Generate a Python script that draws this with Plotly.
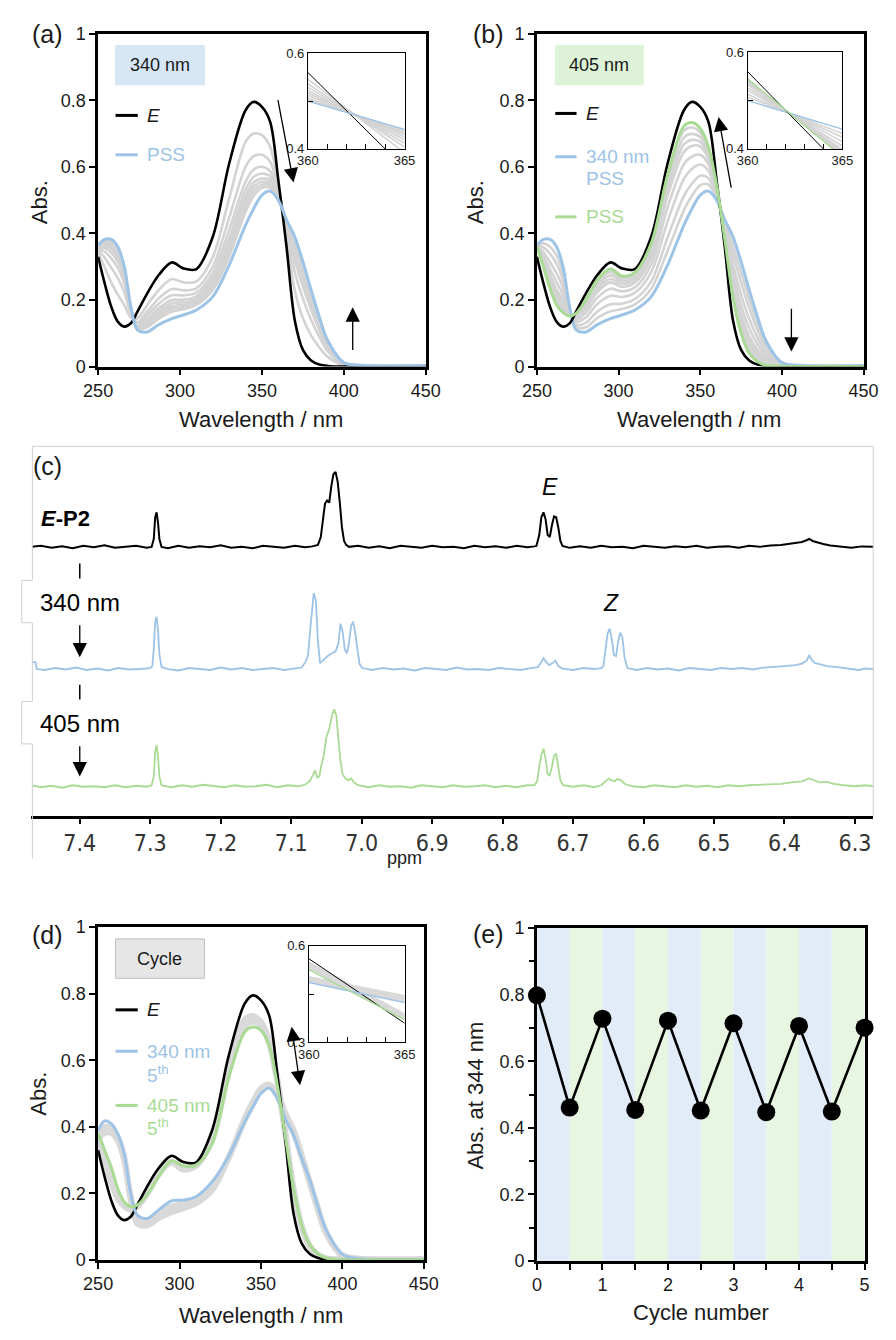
import plotly.graph_objects as go

FIG_W, FIG_H = 896, 1340


def fx(p):
    return p / FIG_W


def fy(p):
    return 1 - p / FIG_H


FONT = "Liberation Sans, Arial, Helvetica, sans-serif"
NARROW = "Liberation Sans Narrow, DejaVu Sans Condensed, Arial Narrow, sans-serif"
INK = "#1a1a1a"
BLACK = "#000000"
BLUE = "#9DC3E6"
GREEN = "#A9DB95"
GRAY = "#D3D3D3"
BAND = "#D9D9D9"

# ---------------- UV-vis absorption spectra ----------------
wavelength = [250, 254, 258, 262, 266, 270, 274, 280, 287, 295, 302, 310, 320, 330,
              340, 345, 350, 355, 360, 365, 370, 375, 380, 385, 390, 400, 410, 450]

abs_E = [0.330, 0.250, 0.180, 0.135, 0.120, 0.130, 0.165, 0.220, 0.275, 0.313, 0.295, 0.293, 0.390, 0.610,
         0.770, 0.795, 0.780, 0.735, 0.560, 0.360, 0.140, 0.050, 0.018, 0.006, 0.002, 0.000, 0.000, 0.000]
abs_pss340 = [0.365, 0.382, 0.382, 0.360, 0.300, 0.180, 0.110, 0.104, 0.126, 0.144, 0.155, 0.170, 0.210, 0.305,
              0.425, 0.475, 0.515, 0.527, 0.500, 0.441, 0.390, 0.315, 0.230, 0.150, 0.080, 0.012, 0.004, 0.003]
abs_pss405 = [0.362, 0.300, 0.235, 0.185, 0.162, 0.152, 0.160, 0.200, 0.260, 0.293, 0.272, 0.283, 0.370, 0.575,
              0.722, 0.733, 0.715, 0.660, 0.545, 0.384, 0.210, 0.100, 0.040, 0.015, 0.004, 0.001, 0.000, 0.000]

# spectra recorded during 340 nm irradiation (E -> PSS)
irr340_1 = [0.343, 0.298, 0.253, 0.216, 0.185, 0.148, 0.145, 0.185, 0.230, 0.263, 0.253, 0.256, 0.329, 0.505,
            0.675, 0.700, 0.695, 0.660, 0.546, 0.392, 0.230, 0.145, 0.094, 0.058, 0.030, 0.004, 0.002, 0.001]
irr340_2 = [0.350, 0.327, 0.297, 0.266, 0.224, 0.159, 0.133, 0.165, 0.205, 0.233, 0.229, 0.235, 0.300, 0.447,
            0.600, 0.632, 0.636, 0.615, 0.536, 0.404, 0.285, 0.204, 0.141, 0.090, 0.047, 0.007, 0.002, 0.002]
irr340_3 = [0.355, 0.345, 0.325, 0.297, 0.250, 0.166, 0.125, 0.153, 0.189, 0.214, 0.214, 0.222, 0.281, 0.411,
            0.555, 0.592, 0.600, 0.587, 0.529, 0.412, 0.320, 0.241, 0.171, 0.110, 0.058, 0.009, 0.003, 0.002]
irr340_4 = [0.358, 0.356, 0.342, 0.315, 0.264, 0.170, 0.121, 0.142, 0.175, 0.200, 0.201, 0.211, 0.266, 0.385,
            0.530, 0.570, 0.580, 0.571, 0.522, 0.419, 0.340, 0.262, 0.188, 0.121, 0.064, 0.010, 0.003, 0.002]
irr340_5 = [0.360, 0.363, 0.353, 0.327, 0.274, 0.173, 0.118, 0.135, 0.166, 0.190, 0.193, 0.203, 0.256, 0.369,
            0.510, 0.553, 0.565, 0.560, 0.517, 0.425, 0.354, 0.277, 0.199, 0.129, 0.069, 0.010, 0.003, 0.003]
irr340_6 = [0.361, 0.367, 0.360, 0.335, 0.280, 0.175, 0.116, 0.130, 0.159, 0.181, 0.186, 0.197, 0.247, 0.354,
            0.495, 0.540, 0.555, 0.552, 0.512, 0.430, 0.363, 0.286, 0.207, 0.134, 0.071, 0.011, 0.004, 0.003]
irr340_7 = [0.362, 0.372, 0.367, 0.343, 0.287, 0.176, 0.114, 0.124, 0.151, 0.173, 0.179, 0.191, 0.239, 0.342,
            0.480, 0.527, 0.546, 0.545, 0.507, 0.434, 0.371, 0.295, 0.214, 0.139, 0.074, 0.011, 0.004, 0.003]
irr340_8 = [0.363, 0.376, 0.373, 0.350, 0.292, 0.178, 0.112, 0.118, 0.144, 0.165, 0.172, 0.185, 0.230, 0.330,
            0.465, 0.513, 0.537, 0.537, 0.503, 0.438, 0.379, 0.303, 0.220, 0.144, 0.077, 0.011, 0.004, 0.003]

# spectra recorded during 405 nm irradiation (340 nm PSS -> PSS)
irr405_1 = [0.363, 0.305, 0.244, 0.196, 0.170, 0.154, 0.157, 0.194, 0.252, 0.284, 0.265, 0.276, 0.360, 0.573,
            0.709, 0.718, 0.703, 0.652, 0.542, 0.387, 0.221, 0.113, 0.051, 0.023, 0.009, 0.002, 0.000, 0.000]
irr405_2 = [0.363, 0.311, 0.254, 0.208, 0.180, 0.156, 0.154, 0.188, 0.243, 0.274, 0.257, 0.268, 0.349, 0.553,
            0.688, 0.699, 0.689, 0.643, 0.539, 0.391, 0.233, 0.128, 0.065, 0.032, 0.014, 0.002, 0.001, 0.000]
irr405_3 = [0.363, 0.316, 0.264, 0.220, 0.190, 0.158, 0.150, 0.181, 0.233, 0.263, 0.249, 0.260, 0.338, 0.533,
            0.667, 0.681, 0.675, 0.633, 0.536, 0.395, 0.246, 0.143, 0.078, 0.042, 0.019, 0.003, 0.001, 0.001]
irr405_4 = [0.363, 0.322, 0.275, 0.232, 0.199, 0.160, 0.147, 0.174, 0.224, 0.253, 0.240, 0.252, 0.327, 0.513,
            0.645, 0.663, 0.661, 0.624, 0.533, 0.399, 0.259, 0.158, 0.091, 0.051, 0.025, 0.004, 0.001, 0.001]
irr405_5 = [0.363, 0.332, 0.293, 0.254, 0.216, 0.163, 0.140, 0.162, 0.207, 0.234, 0.226, 0.238, 0.307, 0.478,
            0.608, 0.631, 0.636, 0.608, 0.527, 0.406, 0.281, 0.185, 0.115, 0.068, 0.034, 0.005, 0.002, 0.001]
irr405_6 = [0.364, 0.344, 0.314, 0.280, 0.237, 0.167, 0.133, 0.148, 0.188, 0.213, 0.209, 0.222, 0.284, 0.436,
            0.564, 0.594, 0.607, 0.588, 0.521, 0.415, 0.307, 0.216, 0.143, 0.088, 0.045, 0.006, 0.002, 0.002]
irr405_7 = [0.364, 0.358, 0.339, 0.309, 0.260, 0.172, 0.125, 0.132, 0.165, 0.187, 0.189, 0.203, 0.256, 0.388,
            0.513, 0.550, 0.573, 0.566, 0.513, 0.424, 0.338, 0.253, 0.175, 0.111, 0.058, 0.009, 0.003, 0.002]
irr405_8 = [0.365, 0.370, 0.360, 0.334, 0.279, 0.176, 0.118, 0.118, 0.146, 0.166, 0.173, 0.187, 0.234, 0.348,
            0.470, 0.514, 0.545, 0.547, 0.507, 0.432, 0.363, 0.283, 0.202, 0.130, 0.069, 0.010, 0.003, 0.003]

# switching cycles: 3rd and 5th photostationary states
cyc3_340 = [0.378, 0.400, 0.396, 0.370, 0.310, 0.190, 0.122, 0.114, 0.138, 0.161, 0.167, 0.180, 0.222, 0.307,
            0.420, 0.468, 0.508, 0.522, 0.493, 0.432, 0.382, 0.310, 0.235, 0.155, 0.085, 0.015, 0.004, 0.002]
cyc3_405 = [0.371, 0.315, 0.258, 0.200, 0.168, 0.156, 0.162, 0.198, 0.255, 0.295, 0.278, 0.284, 0.360, 0.560,
            0.704, 0.716, 0.703, 0.652, 0.536, 0.377, 0.213, 0.103, 0.043, 0.017, 0.005, 0.001, 0.000, 0.000]
cyc5_340 = [0.390, 0.418, 0.410, 0.380, 0.320, 0.200, 0.135, 0.125, 0.150, 0.178, 0.180, 0.190, 0.235, 0.310,
            0.415, 0.460, 0.500, 0.517, 0.486, 0.424, 0.375, 0.305, 0.240, 0.160, 0.090, 0.017, 0.004, 0.002]
cyc5_405 = [0.380, 0.330, 0.280, 0.215, 0.175, 0.160, 0.165, 0.195, 0.250, 0.298, 0.283, 0.285, 0.350, 0.545,
            0.685, 0.700, 0.690, 0.645, 0.526, 0.370, 0.215, 0.105, 0.045, 0.018, 0.006, 0.001, 0.000, 0.000]

# ---------------- absorbance at 344 nm vs cycle ----------------
cycle_number = [0, 0.5, 1, 1.5, 2, 2.5, 3, 3.5, 4, 4.5, 5]
abs_344 = [0.798, 0.461, 0.728, 0.454, 0.722, 0.452, 0.714, 0.447, 0.706, 0.449, 0.701]

# ---------------- 1H NMR traces (chemical shift / ppm, intensity) ----------------
nmr_E_ppm = [7.468, 7.455, 7.44, 7.425, 7.41, 7.395, 7.38, 7.365, 7.35, 7.335, 7.32, 7.305,
             7.298, 7.295, 7.293, 7.291, 7.289, 7.287, 7.284,
             7.275, 7.26, 7.245, 7.23, 7.215, 7.2, 7.185, 7.17, 7.155, 7.14, 7.125, 7.11, 7.095, 7.08, 7.07,
             7.062, 7.058, 7.055, 7.052, 7.049, 7.046, 7.043, 7.040, 7.037, 7.034, 7.031, 7.028, 7.025, 7.022, 7.018,
             7.005, 6.99, 6.975, 6.96, 6.945, 6.93, 6.915, 6.9, 6.885, 6.87, 6.855, 6.84, 6.825, 6.81, 6.795,
             6.78, 6.765, 6.755,
             6.752, 6.748, 6.745, 6.742, 6.739, 6.736, 6.733, 6.730, 6.727, 6.724, 6.721, 6.718, 6.715,
             6.705, 6.69, 6.675, 6.66, 6.645, 6.63, 6.615, 6.6, 6.585, 6.57, 6.555, 6.54, 6.525, 6.51, 6.495,
             6.48, 6.465, 6.45, 6.435, 6.42, 6.405, 6.39, 6.375, 6.368, 6.365, 6.36, 6.352, 6.345, 6.335,
             6.32, 6.305, 6.29, 6.274]
nmr_E_int = [0, 1, -1, 0.5, -1.5, 1, -0.5, 1.5, -1, 0, 1, -1,
             0, 8, 30, 35, 25, 8, 0,
             -1.5, 1, -1, 0.5, -0.5, 1.5, -1, 0, -1.5, 1, 0, -1, 1, -0.5, 0.5,
             2, 10, 30, 44, 47, 45, 62, 74, 76, 66, 45, 20, 6, 2, 0,
             1, -1, 0.5, -1.5, 1, 0, -1, 1, -0.5, 0, -1.5, 1, -0.5, 0.5, -1,
             1, -0.5, 0.5,
             1, 12, 30, 35, 28, 12, 10, 22, 31, 30, 20, 6, 1,
             -1, 0.5, -1, 1, -0.5, 0, -1.5, 1, 0, -1, 0.5, -0.5, 1, -1, 0,
             0.5, -1, 1, 0, 1.5, 2, 3.5, 5, 7, 8, 6, 4, 3, 1.5,
             0, -1, 0.5, 0]

nmr_340_ppm = [7.468, 7.463, 7.461, 7.45, 7.435, 7.42, 7.405, 7.39, 7.375, 7.36, 7.345, 7.33, 7.315, 7.3,
               7.297, 7.295, 7.293, 7.291, 7.289, 7.287, 7.284,
               7.275, 7.26, 7.245, 7.23, 7.215, 7.2, 7.185, 7.17, 7.155, 7.14, 7.125, 7.11, 7.095, 7.085,
               7.079, 7.076, 7.073, 7.070, 7.068, 7.065, 7.062, 7.059, 7.056, 7.052, 7.047, 7.042, 7.037,
               7.033, 7.030, 7.027, 7.024, 7.021, 7.018, 7.015, 7.012, 7.009, 7.006, 7.003, 6.999,
               6.985, 6.97, 6.955, 6.94, 6.925, 6.91, 6.895, 6.88, 6.865, 6.85, 6.835, 6.82, 6.805, 6.79,
               6.775, 6.76, 6.75, 6.745, 6.742, 6.738, 6.734, 6.729, 6.725, 6.721, 6.715,
               6.7, 6.685, 6.67, 6.66, 6.657, 6.654, 6.651, 6.648, 6.645, 6.642, 6.639, 6.636, 6.633, 6.630,
               6.627, 6.623,
               6.61, 6.595, 6.58, 6.565, 6.55, 6.535, 6.52, 6.505, 6.49, 6.475, 6.46, 6.445, 6.43, 6.415,
               6.4, 6.385, 6.375, 6.368, 6.365, 6.362, 6.357, 6.35, 6.34, 6.325, 6.31, 6.295, 6.285, 6.274]
nmr_340_int = [7, 7, 0, -1, 1, -0.5, 1.5, -1, 0.5, -1.5, 1, -0.5, 0, 1,
               3, 20, 48, 53, 40, 15, 2,
               0, -1.5, 1, 0, -1, 1.5, -0.5, 1, -1, 0, 1, -1, 0.5, 1.5,
               8, 14, 40, 66, 77, 70, 28, 6, 8, 11, 14, 16, 18,
               26, 46, 38, 20, 16, 26, 44, 48, 36, 18, 5, 1,
               -1, 1, -0.5, 0.5, -1.5, 1, 0, -1, 1.5, -0.5, 0, -1, 1, 0,
               -1, 1, 2, 7, 11, 7, 4, 6, 8.5, 3, 0.5,
               -1, 1, 0, 1, 3, 20, 36, 41, 30, 14, 13, 28, 37, 32,
               12, 1,
               -1, 1, -0.5, 0.5, -1.5, 1, 0, -1, 1, 0, 1, -0.5, 1.5, 2,
               3, 4, 5.5, 9, 14, 10, 6, 5, 3, 2, 0.5, -1, 0.5, 0]

nmr_405_ppm = [7.468, 7.455, 7.44, 7.425, 7.41, 7.395, 7.38, 7.365, 7.35, 7.335, 7.32, 7.305,
               7.298, 7.295, 7.293, 7.291, 7.289, 7.287, 7.284,
               7.27, 7.255, 7.24, 7.225, 7.21, 7.195, 7.18, 7.165, 7.15, 7.135, 7.12, 7.105, 7.09, 7.08,
               7.073, 7.069, 7.066, 7.063, 7.060, 7.057, 7.054, 7.050, 7.046, 7.042, 7.039, 7.036, 7.033,
               7.030, 7.027, 7.023, 7.019, 7.015, 7.011, 7.005,
               6.99, 6.975, 6.96, 6.945, 6.93, 6.915, 6.9, 6.885, 6.87, 6.855, 6.84, 6.825, 6.81, 6.795,
               6.78, 6.765, 6.755,
               6.751, 6.748, 6.745, 6.742, 6.739, 6.736, 6.733, 6.730, 6.727, 6.724, 6.721, 6.718, 6.714,
               6.7, 6.685, 6.67, 6.66, 6.655, 6.65, 6.645, 6.641, 6.637, 6.632, 6.626, 6.615,
               6.6, 6.585, 6.57, 6.555, 6.54, 6.525, 6.51, 6.495, 6.48, 6.465, 6.45, 6.435, 6.42, 6.405,
               6.39, 6.375, 6.365, 6.358, 6.35, 6.34, 6.33, 6.315, 6.3, 6.285, 6.274]
nmr_405_int = [1, -1, 0.5, -1.5, 1, -0.5, 0, -1, 1, -1, 0.5, -0.5,
               1, 10, 35, 42, 30, 10, 1,
               -1, 1, -0.5, 1.5, 0, -1, 1, -0.5, 0, 1.5, -1, 1, 0, 1.5,
               6, 12, 16, 9, 10, 22, 30, 50, 58, 72, 78, 72, 45,
               25, 12, 8, 6, 8, 4, 1,
               -1, 1, -0.5, 0, -1.5, 1, 0, -1, 1, -0.5, 0, 1, -1, 0.5,
               -1, 1, 1,
               5, 20, 32, 38, 28, 12, 11, 20, 31, 33, 20, 6, 1,
               -0.5, 1, -1, 1, 4, 7.5, 6, 5, 7.5, 6, 2, 0,
               -1, 1, 0, -1, 1, -0.5, 0.5, -1, 1, 0, 1, 1.5, 2, 2.5,
               4, 5, 8, 6, 4, 4.5, 2.5, 1, 0, 1, 0]

# display offsets for stacking the NMR traces
offset_E, offset_340, offset_405 = 273, 149, 30

fig = go.Figure()


def add_line(x, y, xa, ya, color, width, shape="spline"):
    fig.add_trace(go.Scatter(
        x=x, y=y, xaxis=xa, yaxis=ya, mode="lines",
        line=dict(color=color, width=width, shape=shape, smoothing=0.9 if shape == "spline" else None),
        showlegend=False, hoverinfo="skip"))


# panel (a) + inset
for xa, ya, shape, wg, wk, wc in [("x", "y", "spline", 2.6, 2.6, 3.0), ("x6", "y6", "linear", 1.6, 1.0, 1.4)]:
    for s in [irr340_1, irr340_2, irr340_3, irr340_4, irr340_5, irr340_6, irr340_7, irr340_8]:
        add_line(wavelength, s, xa, ya, GRAY, wg, shape)
    add_line(wavelength, abs_E, xa, ya, BLACK, wk, shape)
    add_line(wavelength, abs_pss340, xa, ya, BLUE, wc, shape)

# panel (b) + inset
for xa, ya, shape, wg, wk, wc in [("x2", "y2", "spline", 2.6, 2.6, 3.0), ("x7", "y7", "linear", 1.6, 1.0, 1.4)]:
    for s in [irr405_1, irr405_2, irr405_3, irr405_4, irr405_5, irr405_6, irr405_7, irr405_8]:
        add_line(wavelength, s, xa, ya, GRAY, wg, shape)
    add_line(wavelength, abs_pss340, xa, ya, BLUE, wc, shape)
    add_line(wavelength, abs_E, xa, ya, BLACK, wk, shape)
    add_line(wavelength, abs_pss405, xa, ya, GREEN, wc, shape)

# panel (d) + inset
for xa, ya, shape, wb, wk, wc in [("x4", "y4", "spline", 6, 2.6, 3.0), ("x8", "y8", "linear", 4, 1.0, 1.4)]:
    for s in [abs_pss340, cyc3_340, abs_pss405, cyc3_405]:
        add_line(wavelength, s, xa, ya, BAND, wb, shape)
    add_line(wavelength, abs_E, xa, ya, BLACK, wk, shape)
    add_line(wavelength, cyc5_340, xa, ya, BLUE, wc, shape)
    add_line(wavelength, cyc5_405, xa, ya, GREEN, wc, shape)

# panel (c) NMR
for ppm, inten, off, color, w in [(nmr_E_ppm, nmr_E_int, offset_E, BLACK, 2.0),
                                  (nmr_340_ppm, nmr_340_int, offset_340, BLUE, 1.8),
                                  (nmr_405_ppm, nmr_405_int, offset_405, GREEN, 1.8)]:
    fig.add_trace(go.Scatter(x=ppm, y=[v + off for v in inten], xaxis="x3", yaxis="y3", mode="lines",
                             line=dict(color=color, width=w), showlegend=False, hoverinfo="skip"))

# panel (e)
fig.add_trace(go.Scatter(x=cycle_number, y=abs_344, xaxis="x5", yaxis="y5", mode="lines+markers",
                         line=dict(color=BLACK, width=2.6), marker=dict(color=BLACK, size=18),
                         cliponaxis=False, showlegend=False, hoverinfo="skip"))

# ---------------- axes ----------------
tick_font = dict(family=FONT, size=18, color=INK)


def uv_x(x0, x1, anchor):
    return dict(domain=[fx(x0), fx(x1)], anchor=anchor, range=[250, 450], tickvals=[250, 300, 350, 400, 450],
                ticks="outside", ticklen=6, tickwidth=1.5, tickcolor=BLACK, showline=True, linecolor=BLACK,
                linewidth=2.6, mirror=True, showgrid=False, zeroline=False, tickfont=tick_font)


def uv_y(y0, y1, anchor):
    return dict(domain=[fy(y1), fy(y0)], anchor=anchor, range=[0, 1], tickvals=[0, 0.2, 0.4, 0.6, 0.8, 1.0],
                ticktext=["0", "0.2", "0.4", "0.6", "0.8", "1"], ticks="outside", ticklen=6, tickwidth=1.5,
                tickcolor=BLACK, showline=True, linecolor=BLACK, linewidth=2.6, mirror=True, showgrid=False,
                zeroline=False, tickfont=tick_font)


def inset_x(x0, x1, anchor):
    return dict(domain=[fx(x0), fx(x1)], anchor=anchor, range=[360, 365],
                tickvals=[360, 361, 362, 363, 364, 365], ticktext=["360", " ", " ", " ", " ", "365"],
                ticks="inside", ticklen=5, tickwidth=1, tickcolor=BLACK, showline=True, linecolor=BLACK,
                linewidth=1, mirror=True, showgrid=False, zeroline=False,
                tickfont=dict(family=FONT, size=13, color=INK))


def inset_y(y0, y1, anchor, lo, hi):
    mid = (lo + hi) / 2
    return dict(domain=[fy(y1), fy(y0)], anchor=anchor, range=[lo, hi], tickvals=[lo, mid, hi],
                ticktext=[f"{lo:g}", " ", f"{hi:g}"], ticks="inside", ticklen=5, tickwidth=1, tickcolor=BLACK,
                showline=True, linecolor=BLACK, linewidth=1, mirror=True, showgrid=False, zeroline=False,
                tickfont=dict(family=FONT, size=13, color=INK))


ppm_ticks = [7.4, 7.3, 7.2, 7.1, 7.0, 6.9, 6.8, 6.7, 6.6, 6.5, 6.4, 6.3]

fig.update_layout(
    width=FIG_W, height=FIG_H, margin=dict(l=0, r=0, t=0, b=0), autosize=False,
    paper_bgcolor="white", plot_bgcolor="white", showlegend=False,
    xaxis=uv_x(86, 425, "y"), yaxis=uv_y(24, 362, "x"),
    xaxis2=uv_x(540, 878, "y2"), yaxis2=uv_y(24, 362, "x2"),
    xaxis4=uv_x(86, 423, "y4"), yaxis4=uv_y(931, 1269, "x4"),
    xaxis3=dict(domain=[fx(17), fx(888)], anchor="y3", range=[7.4686, 6.274], tickvals=ppm_ticks,
                ticktext=[f"{v:.1f}" for v in ppm_ticks], ticks="outside", ticklen=5, tickwidth=1.5,
                tickcolor=BLACK, showline=True, linecolor=BLACK, linewidth=3, showgrid=False, zeroline=False,
                tickfont=dict(family=NARROW, size=23, color="#333333")),
    yaxis3=dict(domain=[fy(818), fy(443)], anchor="x3", range=[0, 375], visible=False),
    xaxis5=dict(domain=[fx(540), fx(879)], anchor="y5", range=[0, 5], tickvals=[0, 1, 2, 3, 4, 5],
                ticks="outside", ticklen=6, tickwidth=1.5, tickcolor=BLACK,
                minor=dict(dtick=0.5, ticks="outside", ticklen=6, tickwidth=1.5, tickcolor=BLACK),
                showline=True, linecolor=BLACK, linewidth=2.6, mirror=True, showgrid=False, zeroline=False,
                tickfont=tick_font),
    yaxis5=dict(domain=[fy(1270), fy(932)], anchor="x5", range=[0, 1], tickvals=[0, 0.2, 0.4, 0.6, 0.8, 1.0],
                ticktext=["0", "0.2", "0.4", "0.6", "0.8", "1"], ticks="outside", ticklen=6, tickwidth=1.5,
                tickcolor=BLACK, minor=dict(dtick=0.1, ticks="outside", ticklen=5, tickwidth=1.5, tickcolor=BLACK),
                showline=True, linecolor=BLACK, linewidth=2.6, mirror=True, showgrid=False, zeroline=False,
                tickfont=tick_font),
    xaxis6=inset_x(303, 403, "y6"), yaxis6=inset_y(44, 141, "x6", 0.4, 0.6),
    xaxis7=inset_x(758, 856, "y7"), yaxis7=inset_y(43, 141, "x7", 0.4, 0.6),
    xaxis8=inset_x(304, 403, "y8"), yaxis8=inset_y(950, 1048, "x8", 0.3, 0.6),
)

# ---------------- shapes ----------------
shapes = []
# alternating irradiation stripes in panel (e)
for i in range(10):
    shapes.append(dict(type="rect", xref="x5", yref="y5", x0=i * 0.5, x1=(i + 1) * 0.5, y0=0, y1=1,
                       fillcolor="#E2ECF8" if i % 2 == 0 else "#E8F5E1", line=dict(width=0), layer="below"))


def box(x0, y0, x1, y1, fill, border=None):
    shapes.append(dict(type="rect", xref="paper", yref="paper", x0=fx(x0), x1=fx(x1), y0=fy(y1), y1=fy(y0),
                       fillcolor=fill, line=dict(color=border or fill, width=1), layer="above"))


box(104, 36, 196, 76, "#D6E6F5")
box(559, 36, 650, 76, "#DDF2D6")
box(104, 943, 196, 983, "#E6E6E6", "#BFBFBF")


def seg(x0, x1, y, color, width=3):
    shapes.append(dict(type="line", xref="paper", yref="paper", x0=fx(x0), x1=fx(x1), y0=fy(y), y1=fy(y),
                       line=dict(color=color, width=width)))


seg(104, 127, 107, BLACK)
seg(104, 127, 147, BLUE)
seg(559, 581, 105, BLACK)
seg(559, 581, 149, BLUE)
seg(559, 581, 210, GREEN)
seg(104, 127, 1015, BLACK)
seg(104, 127, 1057, BLUE)
seg(104, 127, 1112, GREEN)

# frame of the NMR panel
frame = (f"M {fx(18)},{fy(862)} L {fx(18)},{fy(745)} L {fx(7)},{fy(745)} L {fx(7)},{fy(702)} "
         f"L {fx(18)},{fy(702)} L {fx(18)},{fy(622)} L {fx(7)},{fy(622)} L {fx(7)},{fy(579)} "
         f"L {fx(18)},{fy(579)} L {fx(18)},{fy(443)} L {fx(888)},{fy(443)} L {fx(888)},{fy(818)}")
shapes.append(dict(type="path", xref="paper", yref="paper", path=frame, line=dict(color="#D0D0D0", width=1)))

# short separators above the irradiation labels
for ya, yb in [(256, 241), (133, 118)]:
    shapes.append(dict(type="line", xref="x3", yref="y3", x0=7.4, x1=7.4, y0=ya, y1=yb,
                       line=dict(color=BLACK, width=1.5)))

fig.update_layout(shapes=shapes)

# ---------------- annotations ----------------


def text(x, y, s, size=18, color=INK, xanchor="center", family=FONT, angle=0):
    fig.add_annotation(x=fx(x), y=fy(y), xref="paper", yref="paper", text=s, showarrow=False,
                       font=dict(family=family, size=size, color=color), xanchor=xanchor, yanchor="middle",
                       textangle=angle)


def arrow(xa, ya, xt, yt, xh, yh, both=False):
    fig.add_annotation(x=xh, y=yh, ax=xt, ay=yt, xref=xa, yref=ya, axref=xa, ayref=ya, text="",
                       showarrow=True, arrowhead=2, arrowsize=2.2, arrowwidth=1.3, arrowcolor=BLACK,
                       arrowside="end+start" if both else "end")


# panel letters
text(34, 24, "(a)", 25)
text(490, 24, "(b)", 25)
text(34, 463, "(c)", 25)
text(34, 939, "(d)", 25)
text(490, 938, "(e)", 25)

# axis titles
for xc, yc in [(255, 416), (708, 416), (255, 1325)]:
    text(xc, yc, "Wavelength / nm", 22)
for xc, yc in [(25, 195), (476, 195), (24, 1100)]:
    text(xc, yc, "Abs.", 22, angle=-90)
text(710, 1322, "Cycle number", 22)
text(477, 1102, "Abs. at 344 nm", 22, angle=-90)

# legend boxes and entries
text(150, 56, "340 nm", 18)
text(604, 56, "405 nm", 18)
text(150, 963, "Cycle", 18)
text(135, 107, "<i>E</i>", 19, xanchor="left")
text(135, 147, "PSS", 19, BLUE, "left")
text(589, 105, "<i>E</i>", 19, xanchor="left")
text(589, 149, "340 nm", 19, BLUE, "left")
text(589, 171, "PSS", 19, BLUE, "left")
text(589, 210, "PSS", 19, GREEN, "left")
text(135, 1015, "<i>E</i>", 19, xanchor="left")
text(135, 1057, "340 nm", 19, BLUE, "left")
text(135, 1080, "5<sup>th</sup>", 19, BLUE, "left")
text(135, 1112, "405 nm", 19, GREEN, "left")
text(135, 1134, "5<sup>th</sup>", 19, GREEN, "left")

# NMR labels
text(25, 516, "<b><i>E</i>-P2</b>", 22, BLACK, "left")
text(554, 484, "<i>E</i>", 23, BLACK)
text(617, 602, "<i>Z</i>", 23, BLACK)
text(24, 601, "340 nm", 24, BLACK, "left")
text(24, 724, "405 nm", 24, BLACK, "left")
text(403, 861, "ppm", 18)

# arrows
arrow("x", "y", 359.6, 0.805, 369.3, 0.553)
arrow("x", "y", 405.4, 0.045, 405.4, 0.178)
arrow("x2", "y2", 369.1, 0.533, 361.2, 0.75)
arrow("x2", "y2", 405.8, 0.178, 405.8, 0.045)
arrow("x4", "y4", 368.7, 0.705, 374.0, 0.525, both=True)
arrow("x3", "y3", 7.4, 195, 7.4, 161)
arrow("x3", "y3", 7.4, 72, 7.4, 40)

# full-bleed page: no default body margin around the figure
fig.write_html("out.html", post_script="document.body.style.margin='0px';document.body.style.overflow='hidden';")
